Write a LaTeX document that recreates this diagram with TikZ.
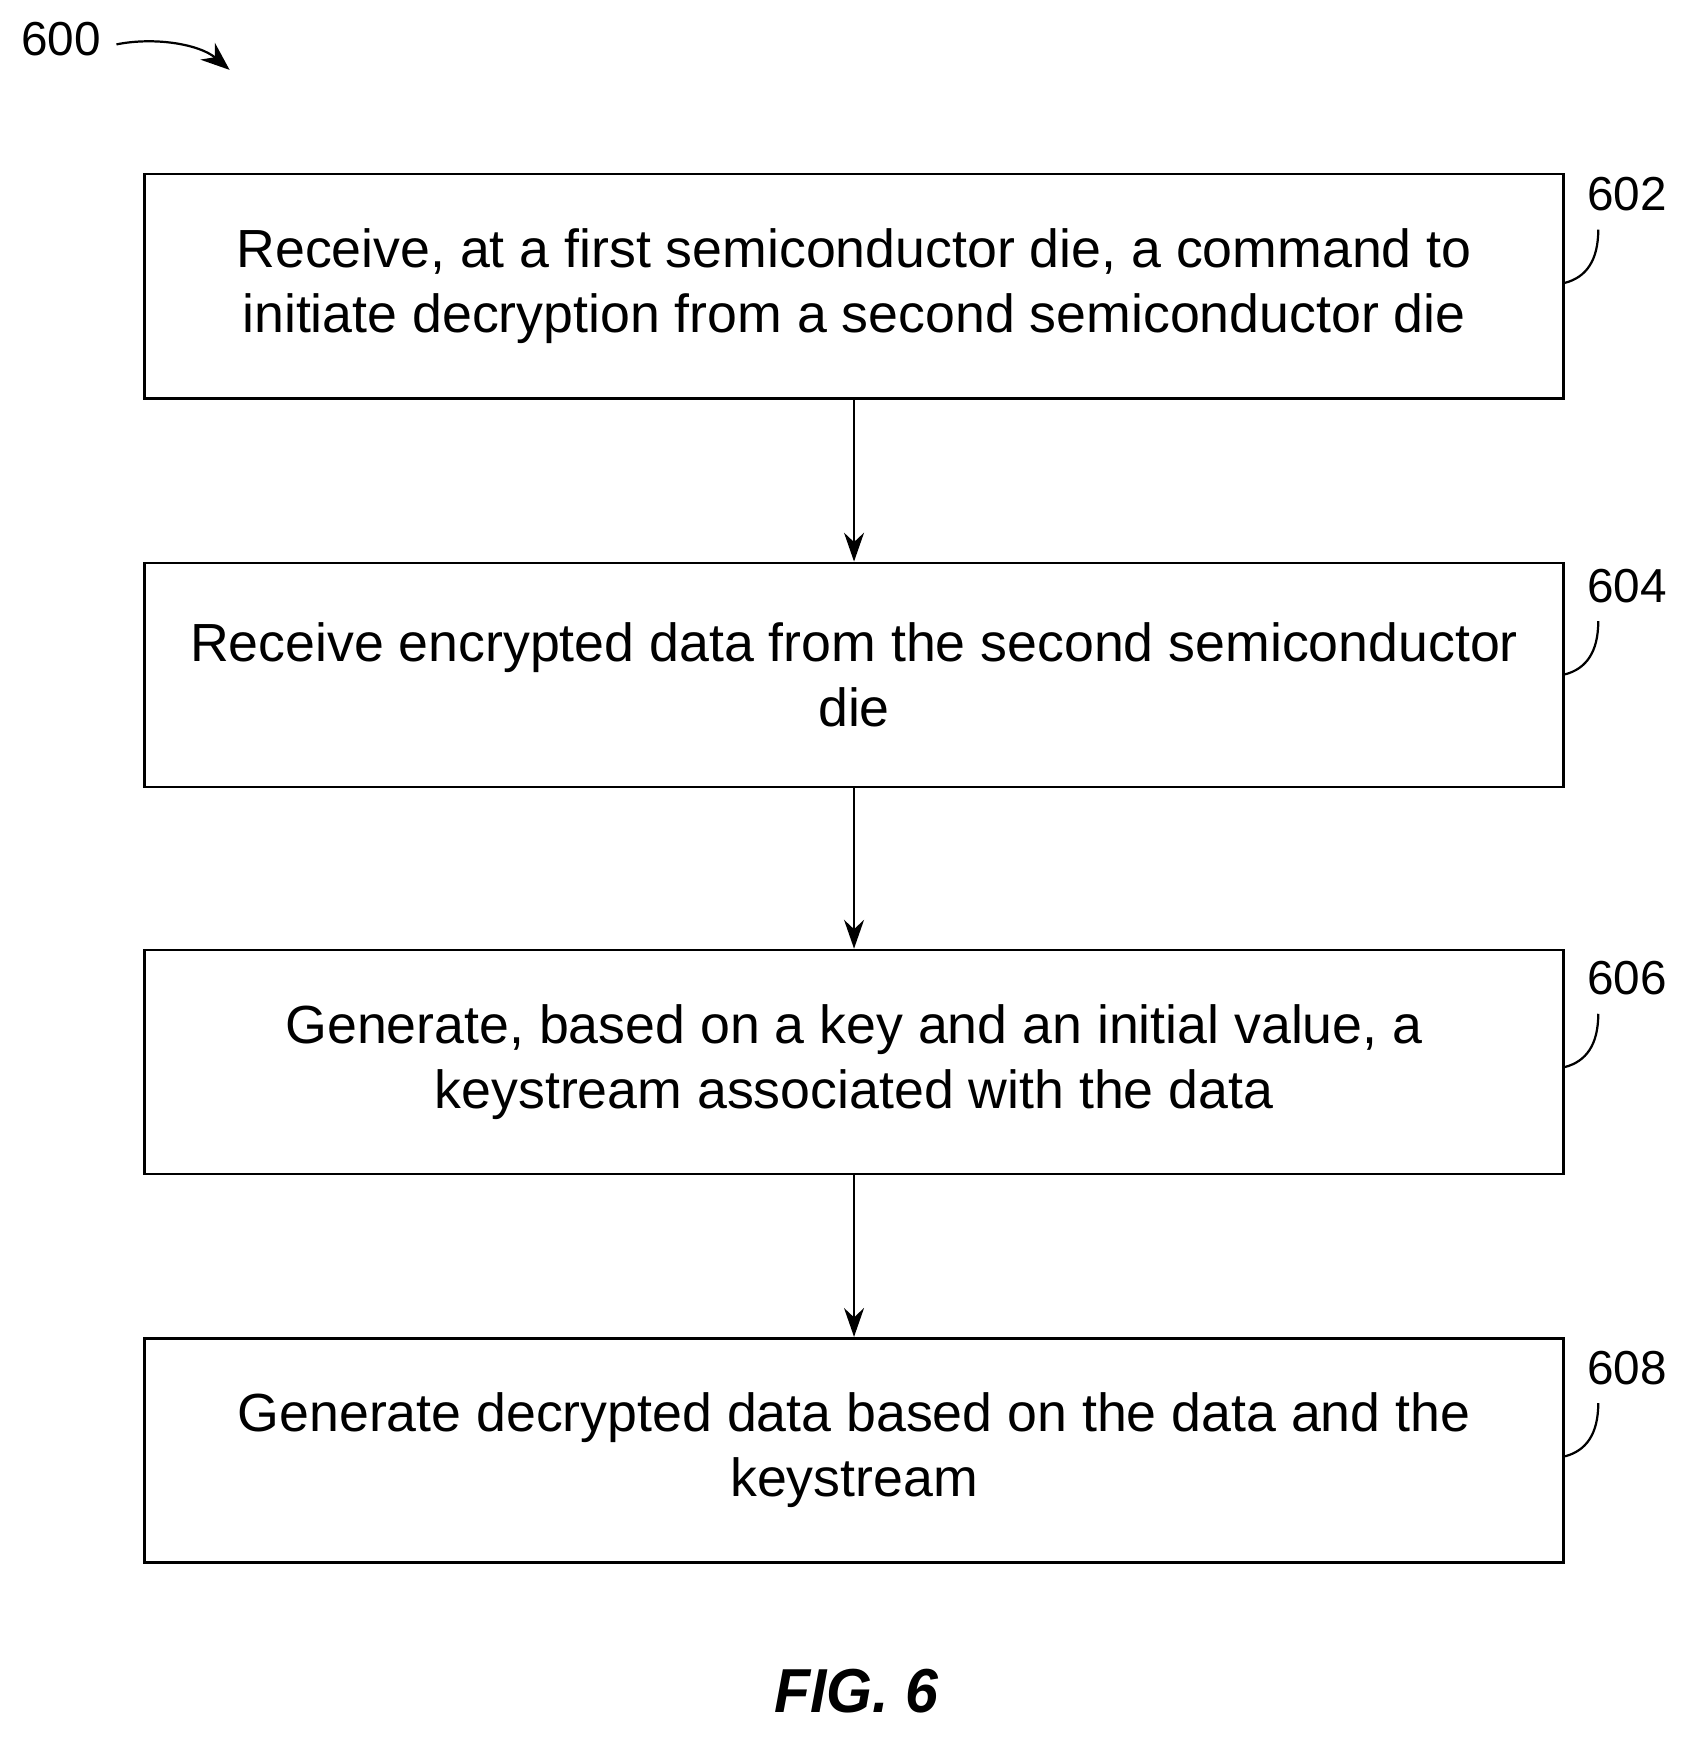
\documentclass[tikz,border=0pt]{standalone}
\usepackage{fontspec}
\setmainfont{Liberation Sans}
\usetikzlibrary{arrows.meta}
\begin{document}
\begin{tikzpicture}[x=0.5pt,y=-0.5pt,
  box/.style={draw,line width=1.2pt,minimum width=639.5pt,minimum height=101pt,align=center,font=\fontsize{24.2}{29.5}\selectfont,inner sep=0pt},
  lab/.style={font=\fontsize{21.5}{24}\selectfont},
  arr/.style={line width=1pt,-{Stealth[length=13pt,width=9pt]}},
  lead/.style={line width=1pt}]
\useasboundingbox (0,0) rectangle (1530,1576);
\node[box] (b1) at (770,258) {Receive, at a first semiconductor die, a command to\\initiate decryption from a second semiconductor die};
\node[box] (b2) at (770,608.5) {Receive encrypted data from the second semiconductor\\die};
\node[box] (b3) at (770,957.5) {Generate, based on a key and an initial value, a\\keystream associated with the data};
\node[box] (b4) at (770,1307.5) {Generate decrypted data based on the data and the\\keystream};
\draw[arr] (b1) -- (b2);
\draw[arr] (b2) -- (b3);
\draw[arr] (b3) -- (b4);
\foreach \n/\t/\y in {b1/602/175,b2/604/528,b3/606/882,b4/608/1233}{
  \node[lab] (l\t) at (1467,\y) {\t};
  \coordinate (e\t) at (1411,\y+80);
  \draw[lead] (1441,\y+32) .. controls (1441,\y+60) and (1430,\y+75) .. (e\t);
}
\node[lab] (n600) at (55,35) {600};
\coordinate (t600) at (207,63);
\draw[line width=1pt,-{Stealth[length=13pt,width=10pt]}] (105,40) .. controls (140,33) and (180,40) .. (t600);
\node[font=\bfseries\itshape\fontsize{28}{32}\selectfont,xscale=0.95] (fig) at (772,1525) {FIG. 6};
\end{tikzpicture}
\end{document}
